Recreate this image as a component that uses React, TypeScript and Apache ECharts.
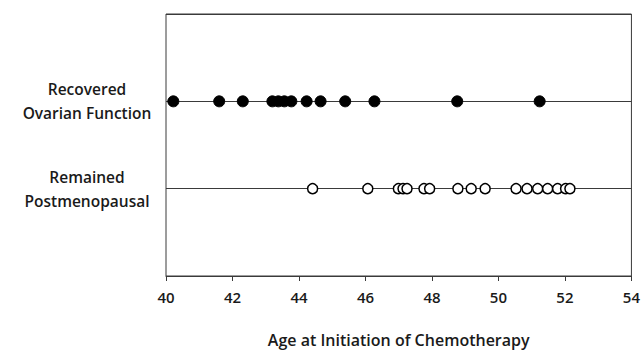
import React, { useEffect, useRef } from "react";
import * as echarts from "echarts";

const categories = ["", "Remained\nPostmenopausal", "Recovered\nOvarian Function", ""];
const recoveredAges = [40.22, 41.6, 42.31, 43.2, 43.38, 43.56, 43.77, 44.23, 44.65, 45.39, 46.27, 48.76, 51.24];
const remainedAges = [44.41, 46.07, 46.99, 47.13, 47.25, 47.76, 47.93, 48.78, 49.18, 49.6, 50.53, 50.86, 51.18, 51.48, 51.78, 52.02, 52.15];
const xTicks = [40, 42, 44, 46, 48, 50, 52, 54];
const xName = "Age at Initiation of Chemotherapy";

const FONT = "Open Sans";

export default function App() {
  const ref = useRef<HTMLDivElement>(null);
  useEffect(() => {
    if (!ref.current) return;
    const chart = echarts.init(ref.current, null, { renderer: "svg" });
    chart.setOption({
      animation: false,
      backgroundColor: "#ffffff",
      grid: {
        left: 166,
        right: 9,
        top: 14,
        bottom: 66,
        show: true,
        borderColor: "#3a3a3a",
        borderWidth: 1,
      },
      xAxis: {
        type: "value",
        min: xTicks[0],
        max: xTicks[xTicks.length - 1],
        interval: 2,
        name: xName,
        nameLocation: "middle",
        nameGap: 56,
        nameTextStyle: { fontFamily: FONT, fontSize: 16, fontWeight: 600, color: "#1a1a1a" },
        axisLine: { show: true, lineStyle: { color: "#3a3a3a", width: 1 } },
        axisTick: { show: true, length: 5, lineStyle: { color: "#3a3a3a" } },
        axisLabel: { fontFamily: FONT, fontSize: 15, fontWeight: 600, color: "#1a1a1a", margin: 13 },
        splitLine: { show: false },
      },
      yAxis: {
        type: "value",
        min: 0,
        max: 3,
        interval: 1,
        axisLine: { show: false },
        axisTick: { show: false },
        axisLabel: {
          fontFamily: FONT,
          fontSize: 15.5,
          fontWeight: 600,
          color: "#1a1a1a",
          align: "center",
          margin: 79,
          lineHeight: 24,
          formatter: (v: number) => categories[v] ?? "",
        },
        splitLine: { show: true, lineStyle: { color: "#3a3a3a", width: 1, type: "solid" } },
      },
      series: [
        {
          type: "scatter",
          name: "Recovered",
          symbol: "circle",
          symbolSize: 11,
          itemStyle: { color: "#000", borderColor: "#000", borderWidth: 1, opacity: 1 },
          data: recoveredAges.map((a) => [a, 2]),
        },
        {
          type: "scatter",
          name: "Remained",
          symbol: "circle",
          symbolSize: 10,
          itemStyle: { color: "#fff", borderColor: "#000", borderWidth: 1.5, opacity: 1 },
          data: remainedAges.map((a) => [a, 1]),
        },
      ],
    });
    return () => chart.dispose();
  }, []);
  return (
    <div
      ref={ref}
      style={{ position: "fixed", left: 0, top: 0, width: 643, height: 353 }}
    />
  );
}
